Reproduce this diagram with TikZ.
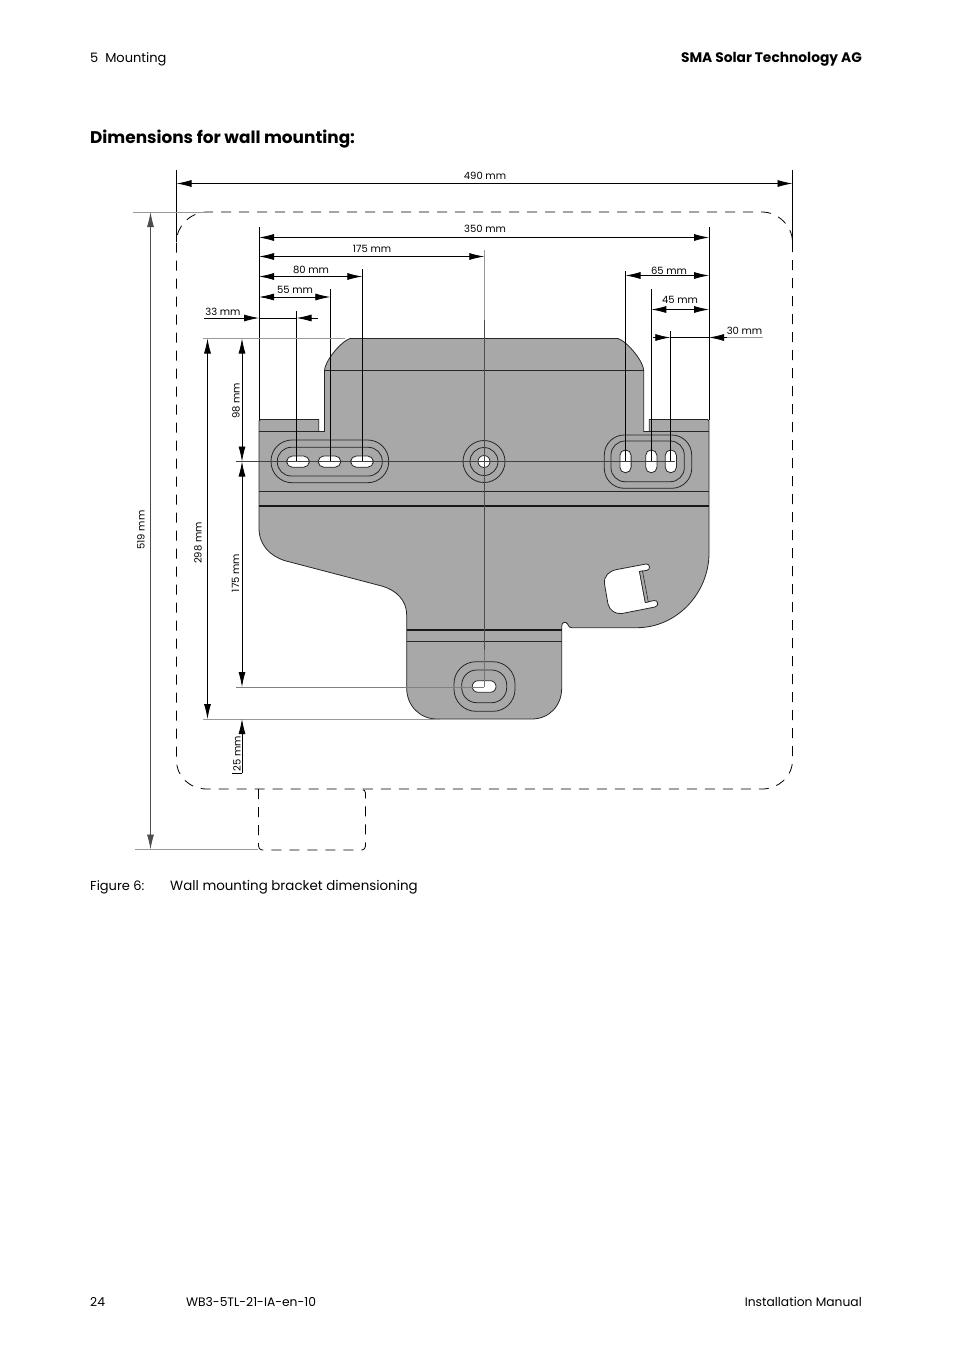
\documentclass[tikz,border=0pt]{standalone}
\usepackage{fontspec}
\setmainfont{Poppins}
\usetikzlibrary{arrows.meta}
\tikzset{
	dim/.style={line width=0.8pt,{Latex[length=15pt,width=7pt]}-{Latex[length=15pt,width=7pt]}},
	dimto/.style={line width=0.8pt,-{Latex[length=15pt,width=7pt]}},
	ext/.style={line width=0.7pt},
	gext/.style={line width=0.8pt,black!40},
	part/.style={draw=black!85,line width=0.8pt,fill=black!34},
	hole/.style={draw=black!85,line width=0.8pt,fill=white},
	ring/.style={draw=black!85,line width=0.8pt},
	dashline/.style={line width=0.8pt,dash pattern=on 10pt off 8pt},
	lab/.style={font=\fontsize{10}{12}\selectfont,inner sep=0pt},
	page/.style={font=\fontsize{13}{16}\selectfont,inner sep=0pt},
	foot/.style={font=\fontsize{12.3}{16}\selectfont,inner sep=0pt}
}
\begin{document}
\begin{tikzpicture}[x=1pt,y=-1pt]
	\useasboundingbox (0,0) rectangle (954,1352);
	% page text
	\node[page,anchor=base west] (chap) at (90,62.7) {5\ \ Mounting};
	\node[page,anchor=base east,font=\fontsize{13.8}{16}\selectfont] (firm) at (862,62.7) {\textbf{SMA Solar Technology AG}};
	\node[anchor=base west,inner sep=0pt,font=\fontsize{16.9}{20}\selectfont\bfseries] (head) at (90,143.5) {Dimensions for wall mounting:};
	\node[page,anchor=base west] (fig) at (90,890) {Figure 6:};
	\node[page,anchor=base west,font=\fontsize{13.4}{16}\selectfont] (figtxt) at (170,890) {Wall mounting bracket dimensioning};
	\node[foot,anchor=base west] (pageno) at (90,1306) {24};
	\node[foot,anchor=base west] (docno) at (186,1306) {WB3-5TL-21-IA-en-10};
	\node[foot,anchor=base east] (manual) at (862,1306) {Installation Manual};
	% bracket
	\draw[part] (259,431.5) -- (259,528) .. controls (259,545) and (270,556) .. (285,560.7)
		-- (381.7,586) .. controls (396,590) and (406.7,600) .. (406.7,615) -- (406.7,688)
		.. controls (406.7,706) and (420,719) .. (437,719) -- (531.7,719)
		.. controls (549,719) and (561.7,706) .. (561.7,688) -- (561.7,626)
		.. controls (561.7,622) and (566,621) .. (567.5,624) .. controls (568.5,627) and (570,627.7) .. (572,627.7)
		-- (636.7,627.7) .. controls (677,627.7) and (709,593) .. (709,553) -- (709,421) -- (707.5,419.5)
		-- (649.3,419.5) -- (649.3,431.5) -- (643.7,431.5) -- (643.7,370.5) .. controls (643.7,362) and (628,342) .. (618,338.5)
		-- (350,338.5) .. controls (340,342) and (324.5,362) .. (324.5,370.5) -- (324.5,431.5) -- (318.7,431.5)
		-- (318.7,419.5) -- (260.5,419.5) -- (259,421) -- cycle;
	\draw[line width=1.5pt,black!85] (259,431.5) -- (318.7,431.5);
	\draw[ring] (649.3,431.5) -- (709,431.5);
	\draw[ring] (324.5,370.5) -- (643.7,370.5);
	\draw[ring] (259,491.5) -- (709,491.5);
	\draw[line width=1.4pt,black!90] (259,506) -- (709,506);
	\draw[line width=1.4pt,black!90] (406.7,630) -- (561.7,630);
	\draw[ring] (406.7,641.3) -- (561.7,641.3);
	% window
	\draw[hole] (617,569.5) -- (646,564) .. controls (650,563.5) and (651,569.5) .. (647,570.3) -- (639.5,571.5)
		-- (645.3,602.5) -- (654,600.5) .. controls (658.5,600) and (659,606) .. (655,607)
		-- (622,613.5) .. controls (615,614.5) and (609.5,610) .. (608,604) -- (604.5,584)
		.. controls (603.5,576) and (609,571) .. (617,569.5) -- cycle;
	\draw[part,line width=0.6pt] (639.5,571.5) -- (642.5,571) -- (648.3,602) -- (645.3,602.5) -- cycle;
	% slots
	\draw[ring,rounded corners=14pt] (277.3,447.3) rectangle (382.3,476);
	\draw[ring,rounded corners=21pt] (271,440) rectangle (388.7,482.7);
	\foreach \x in {298,329.5,362}
	\draw[hole,rounded corners=5.6pt] (\x-11.3,456) rectangle (\x+11.3,467.2);
	\draw[ring,rounded corners=20pt] (604.3,435) rectangle (691.7,488.3);
	\draw[ring,rounded corners=14pt] (611,441) rectangle (684.3,481.7);
	\foreach \x in {625.5,651.3,670.8}
	\draw[hole,rounded corners=5.4pt] (\x-5.6,450) rectangle (\x+5.6,472.7);
	\foreach \r in {21,14}
	\draw[ring] (484,461.5) circle (\r pt);
	\draw[hole] (484,461.5) circle (6pt);
	\draw[ring,rounded corners=22pt] (454,661.7) rectangle (515,711.3);
	\draw[ring,rounded corners=15pt] (461.7,670) rectangle (506.7,702.7);
	\draw[hole,rounded corners=5.7pt] (472.3,680.7) rectangle (496,692.3);
	% outline
	\draw[dashline] (792.5,242) -- (792.5,760) .. controls (792.5,777) and (778,789) .. (762,789)
		-- (207,789) .. controls (190,789) and (176.5,777) .. (176.5,760) -- (176.5,242)
		.. controls (176.5,226) and (190,212) .. (208,212) -- (762,212) .. controls (778,212) and (792.5,226) .. (792.5,242);
	\draw[dashline] (258.5,789) -- (258.5,846) .. controls (258.5,848) and (260,850) .. (262,850)
		-- (362,850) .. controls (364,850) and (365.5,848) .. (365.5,846) -- (365.5,793) .. controls (365.5,791) and (364,789.5) .. (362,789.5);
	% extension lines
	\draw[ext] (176.5,170) -- (176.5,242);
	\draw[ext] (792.5,170) -- (792.5,242);
	\draw[ext] (259,227) -- (259,420);
	\draw[ext] (709,227) -- (709,420);
	\draw[ext] (296.5,311) -- (296.5,461.5);
	\draw[ext] (330.3,289) -- (330.3,461.5);
	\draw[ext] (362.3,269) -- (362.3,461.5);
	\draw[ext] (625.5,271) -- (625.5,461.5);
	\draw[ext] (651.3,289) -- (651.3,461.5);
	\draw[ext] (670.3,331) -- (670.3,461.5);
	\draw[gext] (484.3,250) -- (484.3,320);
	\draw[ext,black!70] (484.3,320) -- (484.3,650);
	\draw[gext,black!55] (484.3,650) -- (484.3,687);
	\draw[ext,black!75] (236,461.5) -- (675,461.5);
	\draw[gext] (133,212) -- (206,212);
	\draw[gext] (135,849.5) -- (258,849.5);
	\draw[gext] (203,338) -- (345,338);
	\draw[gext] (203,719) -- (440,719);
	\draw[gext,black!50] (236,687) -- (484,687);
	% dimensions
	\draw[dim] (176.5,183.5) -- (792.5,183.5);
	\node[lab] (d490) at (485,176) {490 mm};
	\draw[dim] (259,237.5) -- (709,237.5);
	\node[lab] (d350) at (485,228.5) {350 mm};
	\draw[dim] (259,256.5) -- (484.3,256.5);
	\node[lab] (d175) at (372,249) {175 mm};
	\draw[dim] (259,276.5) -- (362.3,276.5);
	\node[lab] (d80) at (311,270) {80 mm};
	\draw[dim] (259,297) -- (330.3,297);
	\node[lab] (d55) at (295,289.5) {55 mm};
	\draw[dim] (625.5,275.5) -- (709,275.5);
	\node[lab] (d65) at (669,270.5) {65 mm};
	\draw[dim] (651.3,309.5) -- (709,309.5);
	\node[lab] (d45) at (680,300) {45 mm};
	\draw[dimto] (204,318) -- (259,318);
	\draw[dimto] (317.7,318) -- (296.5,318);
	\draw[line width=0.8pt] (259,318) -- (296.5,318);
	\node[lab] (d33) at (223,311.5) {33 mm};
	\draw[dimto] (653,337.5) -- (670.3,337.5);
	\draw[line width=0.8pt] (670.3,337.5) -- (709,337.5);
	\draw[dimto] (727,337.5) -- (709,337.5);
	\draw[gext] (727,337.5) -- (763,337.5);
	\node[lab] (d30) at (744.5,331) {30 mm};
	\draw[dim,black!70] (150.5,212) -- (150.5,849.5);
	\node[lab,rotate=90] (d519) at (141,530) {519 mm};
	\draw[dim] (207.5,338.5) -- (207.5,719);
	\node[lab,rotate=90] (d298) at (198,543) {298 mm};
	\draw[dim] (242,338.5) -- (242,461.5);
	\node[lab,rotate=90] (d98) at (236,401) {98 mm};
	\draw[dim] (242,461.5) -- (242,687);
	\node[lab,rotate=90] (d175v) at (235.5,573) {175 mm};
	\draw[dimto] (242,773) -- (242,719);
	\draw[gext,black] (232,773) -- (242,773);
	\node[lab,rotate=90] (d25) at (237,754) {25 mm};
\end{tikzpicture}
\end{document}
